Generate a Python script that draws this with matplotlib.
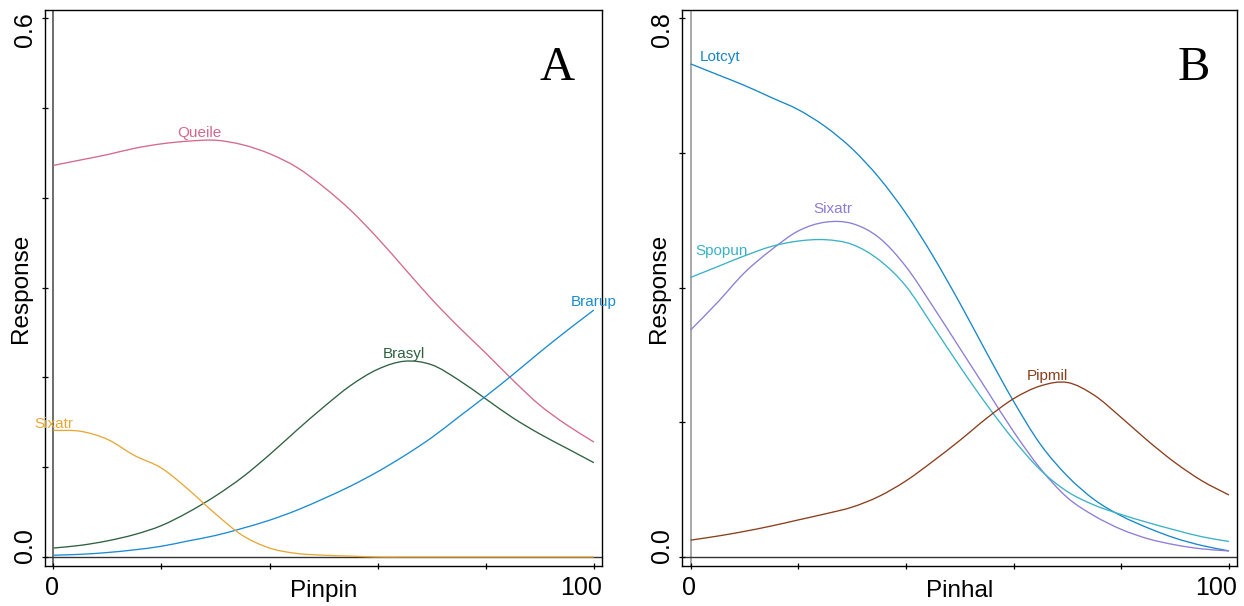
import matplotlib
matplotlib.use("Agg")
import matplotlib.pyplot as plt
from matplotlib.path import Path
from matplotlib.patches import PathPatch
import numpy as np

plt.rcParams['font.family'] = ['Liberation Sans', 'DejaVu Sans']

# ---------------- data ----------------
x_grid = [0, 5, 10, 15, 20, 25, 30, 35, 40, 45, 50, 55, 60, 65, 70, 75, 80, 85, 90, 95, 100]

# Panel A (Pinpin)
queile = [0.436, 0.442, 0.448, 0.455, 0.460, 0.463, 0.464, 0.459, 0.449, 0.434, 0.412,
          0.386, 0.355, 0.321, 0.287, 0.256, 0.227, 0.197, 0.169, 0.147, 0.128]
brasyl = [0.010, 0.013, 0.018, 0.025, 0.035, 0.050, 0.068, 0.089, 0.114, 0.141, 0.167,
          0.191, 0.209, 0.218, 0.214, 0.197, 0.176, 0.155, 0.137, 0.121, 0.105]
brarup = [0.002, 0.003, 0.005, 0.008, 0.012, 0.018, 0.024, 0.032, 0.041, 0.052, 0.065,
          0.079, 0.095, 0.113, 0.133, 0.156, 0.179, 0.203, 0.228, 0.252, 0.275]
sixatr_a = [0.141, 0.140, 0.131, 0.113, 0.099, 0.075, 0.048, 0.024, 0.010, 0.004, 0.002,
            0.001, 0.000, 0.000, 0.000, 0.000, 0.000, 0.000, 0.000, 0.000, 0.000]

# Panel B (Pinhal)
lotcyt = [0.732, 0.716, 0.700, 0.682, 0.664, 0.639, 0.606, 0.563, 0.510, 0.447, 0.377,
          0.303, 0.231, 0.167, 0.120, 0.085, 0.061, 0.043, 0.028, 0.017, 0.009]
sixatr_b = [0.337, 0.378, 0.422, 0.456, 0.484, 0.497, 0.495, 0.474, 0.431, 0.372, 0.310,
            0.248, 0.186, 0.131, 0.088, 0.061, 0.041, 0.027, 0.018, 0.012, 0.009]
spopun = [0.415, 0.431, 0.447, 0.461, 0.469, 0.471, 0.464, 0.441, 0.402, 0.343, 0.283,
          0.226, 0.174, 0.129, 0.097, 0.077, 0.063, 0.051, 0.040, 0.030, 0.023]
pipmil = [0.025, 0.031, 0.038, 0.046, 0.055, 0.064, 0.074, 0.090, 0.113, 0.142, 0.173,
          0.206, 0.235, 0.254, 0.259, 0.240, 0.207, 0.172, 0.140, 0.113, 0.092]

names_a = ['Queile', 'Brasyl', 'Brarup', 'Sixatr']
names_b = ['Lotcyt', 'Sixatr', 'Spopun', 'Pipmil']
colors_a = ['#D4688E', '#2E6140', '#1A8CD3', '#E8A838']
colors_b = ['#1688C8', '#8E7CD6', '#3AB2C6', '#8B3E1C']
# text anchor (center, baseline) for the curve labels
label_xy_a = [(27.1, 0.4676), (64.8, 0.2219), (100.0, 0.2794), (0.0, 0.1439)]
label_xy_b = [(5.5, 0.7366), (26.4, 0.5101), (5.8, 0.4482), (66.2, 0.2627)]

x_ticks = [0, 20, 40, 60, 80, 100]
y_ticks_a = [0, 0.1, 0.2, 0.3, 0.4, 0.5, 0.6]
y_ticks_b = [0, 0.2, 0.4, 0.6, 0.8]


def smooth_path(xs, ys):
    """Smooth (Catmull-Rom style Bezier) path passing through every data point."""
    x = np.asarray(xs, float)
    y = np.asarray(ys, float)
    n = len(x)
    m = np.zeros(n)
    m[0] = (y[1] - y[0]) / (x[1] - x[0])
    m[-1] = (y[-1] - y[-2]) / (x[-1] - x[-2])
    m[1:-1] = (y[2:] - y[:-2]) / (x[2:] - x[:-2])
    verts = [(x[0], y[0])]
    codes = [Path.MOVETO]
    for i in range(n - 1):
        h = x[i + 1] - x[i]
        verts += [(x[i] + h / 3, y[i] + m[i] * h / 3),
                  (x[i + 1] - h / 3, y[i + 1] - m[i + 1] * h / 3),
                  (x[i + 1], y[i + 1])]
        codes += [Path.CURVE4] * 3
    return Path(verts, codes)


# ---------------- figure ----------------
W, H = 1244, 606
fig = plt.figure(figsize=(W / 100, H / 100), dpi=100)
axA = fig.add_axes([45 / W, 40 / H, 557 / W, 556 / H])
axB = fig.add_axes([682.3 / W, 40 / H, 554.7 / W, 556 / H])

panels = [
    (axA, [queile, brasyl, brarup, sixatr_a], names_a, colors_a, label_xy_a,
     y_ticks_a, (-0.0100, 0.609), 'Pinpin', 'A', '0.6', '#555555'),
    (axB, [lotcyt, sixatr_b, spopun, pipmil], names_b, colors_b, label_xy_b,
     y_ticks_b, (-0.0134, 0.812), 'Pinhal', 'B', '0.8', '#9a9a9a'),
]

for (ax, series, names, cols, lxy, yt, ylim, xlab, letter, toplab, vcol) in panels:
    ax.set_xlim(-1.55, 101.5)
    ax.set_ylim(*ylim)
    ax.axvline(0, color=vcol, lw=1.2, zorder=1)
    ax.axhline(0, color='#333333', lw=1.0, zorder=1)
    for s, nm, c, (lx, ly) in zip(series, names, cols, lxy):
        ax.add_patch(PathPatch(smooth_path(x_grid, s), facecolor='none',
                               edgecolor=c, lw=0.95, zorder=2))
        ax.text(lx, ly, nm, color=c, fontsize=11, ha='center', va='baseline')
    for sp in ax.spines.values():
        sp.set_color('black')
        sp.set_linewidth(1.0)
    ax.set_xticks(x_ticks)
    ax.set_yticks(yt)
    ax.set_xticklabels([])
    ax.set_yticklabels([])
    ax.tick_params(direction='inout', length=4, width=0.9, color='black')
    # tick labels (end values only)
    ax.text(0.0, -0.052, '0', transform=ax.transAxes, ha='left', va='baseline', fontsize=18)
    ax.text(1.0, -0.052, '100', transform=ax.transAxes, ha='right', va='baseline', fontsize=18)
    ax.text(-0.0145, 0.005, '0.0', transform=ax.transAxes, ha='right', va='bottom',
            rotation=90, fontsize=18)
    ax.text(-0.0145, 0.996, toplab, transform=ax.transAxes, ha='right', va='top',
            rotation=90, fontsize=18)
    ax.set_xlabel(xlab, fontsize=17.5)
    ax.xaxis.label.set_va('baseline')
    ax.xaxis.set_label_coords(0.5, -0.0558)
    ax.set_ylabel('Response', fontsize=17.5)
    ax.yaxis.label.set_va('baseline')
    ax.yaxis.set_label_coords(-0.032, 0.5)
    ax.text(0.951, 0.874, letter, transform=ax.transAxes, ha='right', va='baseline',
            fontsize=35, family=['Liberation Serif', 'DejaVu Serif'])

fig.savefig('out.png', dpi=100)
